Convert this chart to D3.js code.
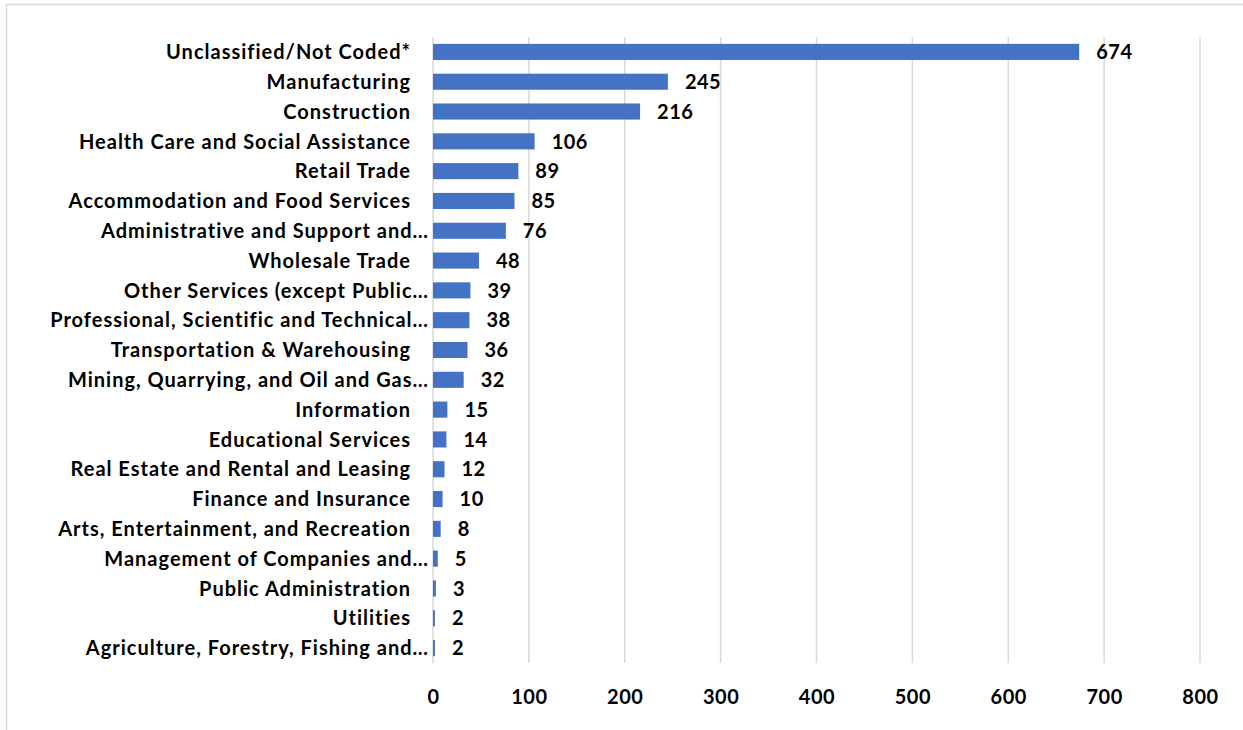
<!DOCTYPE html>
<html>
<head>
<meta charset="utf-8">
<script src="https://cdn.jsdelivr.net/npm/d3@7"></script>
<style>
  body { margin: 0; background: #fff; }
  svg { display: block; }
  text { font-family: Lato, "Open Sans", sans-serif; font-weight: bold; fill: #000; }
</style>
</head>
<body>
<div id="chart"></div>
<script>
const industries = [
  "Unclassified/Not Coded*",
  "Manufacturing",
  "Construction",
  "Health Care and Social Assistance",
  "Retail Trade",
  "Accommodation and Food Services",
  "Administrative and Support and…",
  "Wholesale Trade",
  "Other Services (except Public…",
  "Professional, Scientific and Technical…",
  "Transportation & Warehousing",
  "Mining, Quarrying, and Oil and Gas…",
  "Information",
  "Educational Services",
  "Real Estate and Rental and Leasing",
  "Finance and Insurance",
  "Arts, Entertainment, and Recreation",
  "Management of Companies and…",
  "Public Administration",
  "Utilities",
  "Agriculture, Forestry, Fishing and…"
];
const counts = [674, 245, 216, 106, 89, 85, 76, 48, 39, 38, 36, 32, 15, 14, 12, 10, 8, 5, 3, 2, 2];
const xTicks = [0, 100, 200, 300, 400, 500, 600, 700, 800];

const W = 1243, H = 730;
const PLOT = { LEFT: 433, RIGHT: 1200, TOP: 37, BOTTOM: 663 };

const data = industries.map((name, i) => ({ name, value: counts[i] }));

const svg = d3.select("#chart")
  .append("svg")
  .attr("width", W)
  .attr("height", H);

// chart frame (only top & left edges fall inside the shot)
svg.append("rect")
  .attr("x", 6.5).attr("y", 4.5)
  .attr("width", W + 20).attr("height", H + 20)
  .attr("fill", "none")
  .attr("stroke", "#d9d9d9")
  .attr("stroke-width", 1.5);

const x = d3.scaleLinear().domain([0, 800]).range([PLOT.LEFT, PLOT.RIGHT]);
const y = d3.scaleBand()
  .domain(industries)
  .range([PLOT.TOP, PLOT.BOTTOM])
  .paddingInner(0.46)
  .paddingOuter(0.23);

// gridlines
svg.append("g")
  .selectAll("line")
  .data(xTicks)
  .join("line")
  .attr("x1", d => x(d)).attr("x2", d => x(d))
  .attr("y1", PLOT.TOP).attr("y2", PLOT.BOTTOM)
  .attr("stroke", "#d9d9d9")
  .attr("stroke-width", 1.5);

// bars
svg.append("g")
  .selectAll("rect")
  .data(data)
  .join("rect")
  .attr("x", x(0))
  .attr("y", d => y(d.name))
  .attr("width", d => x(d.value) - x(0))
  .attr("height", y.bandwidth())
  .attr("fill", "#4472c4");

// value labels
svg.append("g")
  .selectAll("text")
  .data(data)
  .join("text")
  .attr("x", d => x(d.value) + 17)
  .attr("y", d => y(d.name) + y.bandwidth() / 2)
  .attr("dy", "0.36em")
  .attr("font-size", 20)
  .attr("letter-spacing", 0.5)
  .text(d => d.value);

// category labels (excel pads the untruncated ones)
const yAxis = d3.axisLeft(y).tickSize(0).tickPadding(0);
const yg = svg.append("g")
  .attr("transform", `translate(${x(0)},0)`)
  .call(yAxis);
yg.select(".domain").remove();
yg.selectAll("text")
  .attr("x", d => d.endsWith("…") ? -4 : -22)
  .attr("dy", "0.36em")
  .attr("font-size", 20)
  .attr("letter-spacing", 1)
  .attr("font-family", null);

// x axis tick labels
const xAxis = d3.axisBottom(x).tickValues(xTicks).tickSize(0).tickPadding(0);
const xg = svg.append("g")
  .attr("transform", `translate(0,${PLOT.BOTTOM})`)
  .call(xAxis);
xg.select(".domain").remove();
xg.selectAll("text")
  .attr("y", 34)
  .attr("dy", "0.36em")
  .attr("font-size", 20)
  .attr("letter-spacing", 0.5)
  .attr("font-family", null);
</script>
</body>
</html>
